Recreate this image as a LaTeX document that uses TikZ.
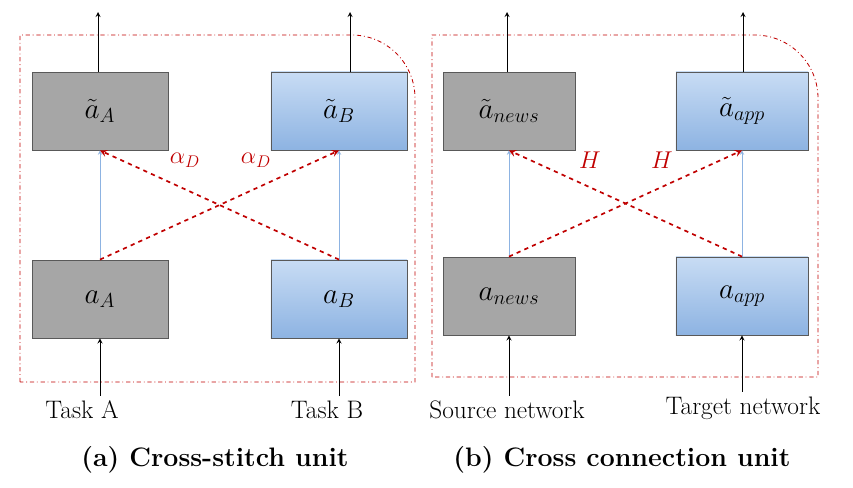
\documentclass[tikz,border=0pt]{standalone}
\usepackage{tikz}
\usetikzlibrary{positioning}
\definecolor{frame red}{RGB}{192,0,0}
\definecolor{box gray}{RGB}{166,166,166}
\definecolor{blue top}{RGB}{200,220,244}
\definecolor{blue bot}{RGB}{141,179,226}
\begin{document}
\begin{tikzpicture}[x=0.025cm, y=-0.025cm, >=stealth, semithick]
    \tikzset{
        unit/.style={draw=gray!70!black, minimum width=3.4cm, minimum height=1.95cm, font=\fontsize{20}{22}\selectfont},
        grayunit/.style={unit, fill=box gray},
        blueunit/.style={unit, top color=blue top, bottom color=blue bot},
        frame/.style={draw=frame red, semithick, dash dot},
        cross/.style={->, draw=frame red, very thick, dashed},
        pass/.style={->, draw=blue bot, thin},
        lbl/.style={font=\fontsize{18}{20}\selectfont},
        caption/.style={font=\fontsize{19}{21}\selectfont\bfseries}
    }
    \useasboundingbox (0,0) rectangle (853,487);
    % frames
    \draw[frame] (20,382) -- (20,35) [rounded corners=45] -- (415,35) [sharp corners] -- (415,382) -- cycle;
    \draw[frame] (432,377) -- (432,35) [rounded corners=45] -- (818,35) [sharp corners] -- (818,377) -- cycle;
    % left unit
    \node[grayunit] (tA) at (100,111) {$\tilde{a}_A$};
    \node[blueunit] (tB) at (339,111) {$\tilde{a}_B$};
    \node[grayunit] (aA) at (100,299) {$a_A$};
    \node[blueunit] (aB) at (339,299) {$a_B$};
    \node[lbl] (taskA) at (82,410) {Task A};
    \node[lbl] (taskB) at (327,410) {Task B};
    \coordinate (outA) at (98,12);
    \coordinate (outB) at (350,12);
    \draw[->] (taskA.north -| aA) -- (aA);
    \draw[->] (taskB.north -| aB) -- (aB);
    \draw[->] (tA.north -| outA) -- (outA);
    \draw[->] (tB.north -| outB) -- (outB);
    \draw[pass] (aA.north) -- (tA.south);
    \draw[pass] (aB.north) -- (tB.south);
    \draw[cross] (aA.north) -- (tB.south);
    \draw[cross] (aB.north) -- (tA.south);
    \node[lbl, text=frame red] (alA) at (185,160) {$\alpha_D$};
    \node[lbl, text=frame red] (alB) at (256,160) {$\alpha_D$};
    \node[caption] (capA) at (215,460) {(a) Cross-stitch unit};
    % right unit
    \node[grayunit, minimum width=3.3cm] (tN) at (509,111) {$\tilde{a}_{news}$};
    \node[blueunit, minimum width=3.3cm] (tP) at (742,111) {$\tilde{a}_{app}$};
    \node[grayunit, minimum width=3.3cm] (aN) at (509,296) {$a_{news}$};
    \node[blueunit, minimum width=3.3cm] (aP) at (742,296) {$a_{app}$};
    \node[lbl] (src) at (507,410) {Source network};
    \node[lbl] (tgt) at (743,408) {Target network};
    \coordinate (outN) at (507,12);
    \coordinate (outP) at (743,12);
    \draw[->] (src.north -| aN) -- (aN);
    \draw[->] (tgt.north -| aP) -- (aP);
    \draw[->] (tN.north -| outN) -- (outN);
    \draw[->] (tP.north -| outP) -- (outP);
    \draw[pass] (aN.north) -- (tN.south);
    \draw[pass] (aP.north) -- (tP.south);
    \draw[cross] (aN.north) -- (tP.south);
    \draw[cross] (aP.north) -- (tN.south);
    \node[lbl, text=frame red] (hA) at (590,160) {$H$};
    \node[lbl, text=frame red] (hB) at (662,160) {$H$};
    \node[caption] (capB) at (622,460) {(b) Cross connection unit};
\end{tikzpicture}
\end{document}
